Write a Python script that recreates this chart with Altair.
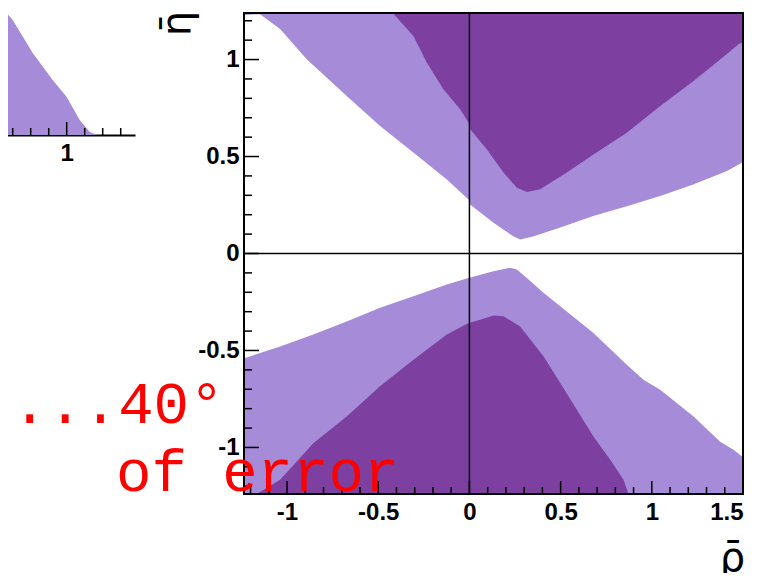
import altair as alt
import pandas as pd

# ---------------- data ----------------
# main panel: rho-bar / eta-bar plane
top_outer_x = [-1.236, -1.148, -1.038, -0.892, -0.673, -0.490, -0.309, -0.124, -0.005, 0.004,
               0.130, 0.240, 0.278, 0.349, 0.498, 0.679, 0.863, 1.046, 1.227, 1.412, 1.5]
top_outer_y = [1.23, 1.234, 1.157, 1.002, 0.8125, 0.6575, 0.522, 0.382, 0.279, 0.253,
               0.160, 0.089, 0.072, 0.088, 0.134, 0.193, 0.244, 0.296, 0.356, 0.425, 0.472]

top_inner_x = [-0.417, -0.307, -0.234, -0.143, -0.051, -0.005, 0.004, 0.095, 0.187, 0.260,
               0.315, 0.388, 0.534, 0.680, 0.863, 1.046, 1.229, 1.412, 1.476, 1.5]
top_inner_y = [1.236, 1.122, 0.985, 0.847, 0.744, 0.675, 0.640, 0.537, 0.417, 0.339,
               0.317, 0.331, 0.417, 0.511, 0.623, 0.761, 0.890, 1.028, 1.080, 1.088]

bot_outer_x = [-1.236, -1.230, -1.038, -0.856, -0.673, -0.490, -0.307, -0.124, -0.005, 0.132,
               0.223, 0.260, 0.315, 0.406, 0.498, 0.680, 0.863, 0.954, 1.046, 1.229, 1.375,
               1.448, 1.5]
bot_outer_y = [-0.542, -0.539, -0.479, -0.418, -0.350, -0.280, -0.221, -0.160, -0.126, -0.091,
               -0.074, -0.083, -0.126, -0.203, -0.272, -0.410, -0.573, -0.651, -0.702, -0.840,
               -0.970, -1.012, -1.050]

bot_inner_x = [-1.166, -1.038, -0.856, -0.673, -0.490, -0.307, -0.124, -0.005, 0.059, 0.132,
               0.187, 0.278, 0.406, 0.498, 0.589, 0.680, 0.772, 0.845, 0.872]
bot_inner_y = [-1.24, -1.167, -0.978, -0.840, -0.685, -0.548, -0.418, -0.358, -0.341, -0.320,
               -0.324, -0.376, -0.530, -0.668, -0.806, -0.944, -1.064, -1.167, -1.24]

x_major = [-1, -0.5, 0, 0.5, 1, 1.5]
x_minor = [-1.2, -1.1, -0.9, -0.8, -0.7, -0.6, -0.4, -0.3, -0.2, -0.1, 0.1, 0.2, 0.3, 0.4,
           0.6, 0.7, 0.8, 0.9, 1.1, 1.2, 1.3, 1.4]
y_major = [-1, -0.5, 0, 0.5, 1]
y_minor = [-1.2, -1.1, -0.9, -0.8, -0.7, -0.6, -0.4, -0.3, -0.2, -0.1, 0.1, 0.2, 0.3, 0.4,
           0.6, 0.7, 0.8, 0.9, 1.1, 1.2]

# neighbouring (cropped) panel on the left
mini_outer_x = [0.6294, 0.700, 0.811, 0.922, 1.0, 1.072, 1.128, 1.167]
mini_outer_y = [0.722, 0.639, 0.456, 0.306, 0.211, 0.083, 0.017, 0.0]
mini_inner_x = [0.6294, 0.661]
mini_inner_y = [0.111, 0.0]
mini_major = [1]
mini_minor = [0.7, 0.8, 0.9, 1.1, 1.2, 1.3]

note_line1 = "...40°"
note_line2 = "of error"

# ---------------- styling ----------------
LIGHT = "#A68BD8"
DARK = "#7D40A1"
W, H = 499, 481
XMIN, XMAX = -1.236, 1.5
YMIN, YMAX = -1.24, 1.24
LABEL_FONT = "Liberation Sans"
SYM_FONT = "DejaVu Sans"
MONO = "Liberation Mono"
LSIZE = 24

xs = alt.Scale(domain=[XMIN, XMAX], nice=False, zero=False)
ys = alt.Scale(domain=[YMIN, YMAX], nice=False, zero=False)
lab_expr = "'' + datum.value"

X_AX = alt.Axis(values=x_major, labelExpr=lab_expr, ticks=False, domain=False, grid=False,
                labelFont=LABEL_FONT, labelFontWeight="bold", labelFontSize=LSIZE,
                labelColor="black", labelPadding=6,
                title="ρ̄", titleFont=SYM_FONT, titleFontSize=40, titleFontWeight="normal",
                titleColor="black", titleX=488, titleY=76, titleAlign="center",
                titleBaseline="alphabetic")
Y_AX = alt.Axis(values=y_major, labelExpr=lab_expr, ticks=False, domain=False, grid=False,
                labelFont=LABEL_FONT, labelFontWeight="bold", labelFontSize=LSIZE,
                labelColor="black", labelPadding=5,
                title="η̄", titleFont=SYM_FONT, titleFontSize=40, titleFontWeight="normal",
                titleColor="black", titleX=-55, titleY=10, titleAngle=-90, titleAlign="center",
                titleBaseline="alphabetic")


def region(xv, yv, edge, color):
    df = pd.DataFrame({"px": xv, "py": yv, "pe": [edge] * len(xv)})
    return alt.Chart(df).mark_area(fill=color, fillOpacity=1, clip=True).encode(
        x=alt.X("px:Q", scale=xs, axis=X_AX),
        y=alt.Y("py:Q", scale=ys, axis=Y_AX),
        y2=alt.Y2("pe:Q"),
    )


def xticks(vals, length):
    return alt.Chart(pd.DataFrame({"v": vals})).mark_rule(color="black", strokeWidth=1.5).encode(
        x=alt.X("v:Q", scale=xs, axis=X_AX),
        y=alt.value(H), y2=alt.value(H - length))


def yticks(vals, length):
    return alt.Chart(pd.DataFrame({"v": vals})).mark_rule(color="black", strokeWidth=1.5).encode(
        y=alt.Y("v:Q", scale=ys, axis=Y_AX),
        x=alt.value(0), x2=alt.value(length))


zero_df = pd.DataFrame({"v": [0]})
zero_v = alt.Chart(zero_df).mark_rule(color="black", strokeWidth=1.5).encode(
    x=alt.X("v:Q", scale=xs, axis=X_AX))
zero_h = alt.Chart(zero_df).mark_rule(color="black", strokeWidth=1.5).encode(
    y=alt.Y("v:Q", scale=ys, axis=Y_AX))
frame = alt.Chart(pd.DataFrame({"f": [1]})).mark_rect(
    fillOpacity=0, stroke="black", strokeWidth=2).encode(
    x=alt.value(0), x2=alt.value(W), y=alt.value(0), y2=alt.value(H))

main = alt.layer(
    region(top_outer_x, top_outer_y, YMAX, LIGHT),
    region(top_inner_x, top_inner_y, YMAX, DARK),
    region(bot_outer_x, bot_outer_y, YMIN, LIGHT),
    region(bot_inner_x, bot_inner_y, YMIN, DARK),
    zero_v, zero_h,
    xticks(x_major, 13), xticks(x_minor, 7),
    yticks(y_major, 15), yticks(y_minor, 8),
    frame,
)

# ---- cropped neighbour panel (own scales) ----
mxs = alt.Scale(domain=[0.6294, 1.3794], range=[-244, -109], nice=False, zero=False)
mys = alt.Scale(domain=[0, 0.75], range=[122, -13], nice=False, zero=False)
M_AX = alt.Axis(orient="bottom", offset=-(H - 122), values=mini_major, labelExpr=lab_expr,
                ticks=False, domain=True, domainColor="black", domainWidth=2, grid=False,
                labelFont=LABEL_FONT, labelFontWeight="bold", labelFontSize=LSIZE,
                labelColor="black", labelPadding=6, title=None)


def mregion(xv, yv, color):
    df = pd.DataFrame({"px": xv, "py": yv, "pe": [0.0] * len(xv)})
    return alt.Chart(df).mark_area(fill=color, fillOpacity=1).encode(
        x=alt.X("px:Q", scale=mxs, axis=M_AX),
        y=alt.Y("py:Q", scale=mys, axis=None),
        y2=alt.Y2("pe:Q"),
    )


def mticks(vals, length):
    return alt.Chart(pd.DataFrame({"v": vals})).mark_rule(color="black", strokeWidth=1.5).encode(
        x=alt.X("v:Q", scale=mxs, axis=M_AX),
        y=alt.value(122), y2=alt.value(122 - length))


mini = alt.layer(
    mregion(mini_outer_x, mini_outer_y, LIGHT),
    mregion(mini_inner_x, mini_inner_y, DARK),
    mticks(mini_major, 13), mticks(mini_minor, 7),
)

note1 = alt.Chart(pd.DataFrame({"t": [note_line1]})).mark_text(
    align="left", baseline="alphabetic", font=MONO, fontSize=59, color="red").encode(
    x=alt.value(-232), y=alt.value(410), text="t:N")
note2 = alt.Chart(pd.DataFrame({"t": [note_line2]})).mark_text(
    align="left", baseline="alphabetic", font=MONO, fontSize=59, color="red").encode(
    x=alt.value(-128), y=alt.value(478), text="t:N")

chart = alt.layer(main, mini, note1, note2).resolve_scale(
    x="independent", y="independent"
).properties(
    width=W, height=H,
    padding={"left": 236, "top": 5, "right": 15, "bottom": 79},
    autosize=alt.AutoSizeParams(type="none"),
).configure_view(stroke=None)

chart.save("out.html", embed_options={"renderer": "svg", "actions": False})
